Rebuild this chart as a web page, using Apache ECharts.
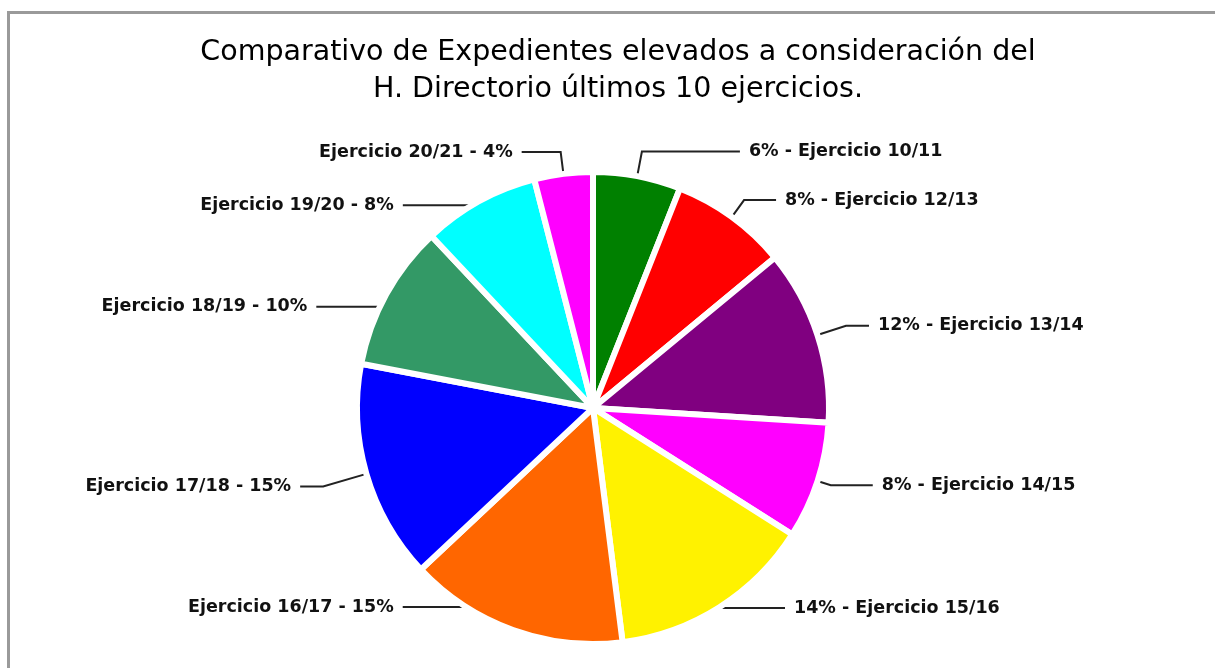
<!DOCTYPE html>
<html>
<head>
<meta charset="utf-8">
<script src="https://cdn.jsdelivr.net/npm/echarts@6/dist/echarts.min.js"></script>
<style>
  html, body { margin: 0; padding: 0; background: #fff; overflow: hidden; }
  #frame { position: absolute; left: 7px; top: 11px; width: 1400px; height: 900px; border: 3px solid #9a9a9a; }
  #chart { position: absolute; left: 0; top: 0; width: 1215px; height: 668px; }
</style>
</head>
<body>
<div id="frame"></div>
<div id="chart"></div>
<script>
var categories = ['Ejercicio 10/11', 'Ejercicio 12/13', 'Ejercicio 13/14', 'Ejercicio 14/15', 'Ejercicio 15/16',
                  'Ejercicio 16/17', 'Ejercicio 17/18', 'Ejercicio 18/19', 'Ejercicio 19/20', 'Ejercicio 20/21'];
var percents = [6, 8, 12, 8, 14, 15, 15, 10, 8, 4];
var colors = ['#008000', '#ff0000', '#800080', '#ff00ff', '#fff200',
              '#ff6600', '#0000ff', '#339966', '#00ffff', '#ff00ff'];
// leader line segments (radial part, horizontal part) and small vertical nudges
var leadLen = [25, 21, 30, 14, 1, 1, 45, 1, 1, 22];
var leadLen2 = [98, 32, 23, 42, 65, 110, 23, 69, 76, 39];
var labelNudge = [0, 0, 0, 0, 0, -24, 0, 13, 5, 0];

var data = [];
for (var i = 0; i < categories.length; i++) {
  data.push({
    name: categories[i],
    value: percents[i],
    itemStyle: { color: colors[i] },
    labelLine: { length: leadLen[i], length2: leadLen2[i] }
  });
}

var myChart = echarts.init(document.getElementById('chart'));
myChart.setOption({
  animation: false,
  title: {
    text: 'Comparativo de Expedientes elevados a consideración del\nH. Directorio últimos 10 ejercicios.',
    left: 613,
    top: 29,
    textAlign: 'center',
    textStyle: {
      fontFamily: 'DejaVu Sans',
      fontSize: 28.5,
      fontWeight: 'normal',
      color: '#000',
      lineHeight: 37
    }
  },
  series: [{
    type: 'pie',
    center: [593, 408],
    radius: 236,
    startAngle: 90,
    clockwise: true,
    avoidLabelOverlap: false,
    itemStyle: { borderColor: '#fff', borderWidth: 6 },
    label: {
      show: true,
      fontFamily: 'DejaVu Sans',
      fontWeight: 'bold',
      fontSize: 17.5,
      color: '#111',
      distanceToLabelLine: 9,
      formatter: function (p) {
        var left = p.dataIndex >= 5;
        return left ? p.name + ' - ' + p.value + '%' : p.value + '% - ' + p.name;
      }
    },
    labelLayout: function (params) {
      var dy = labelNudge[params.dataIndex];
      var pts = params.labelLinePoints;
      if (!dy || !pts) return {};
      // move the elbow and tail of the leader line together with the label
      var moved = [
        [pts[0][0], pts[0][1]],
        [pts[1][0], pts[1][1] + dy],
        [pts[2][0], pts[2][1] + dy]
      ];
      return { dy: dy, labelLinePoints: moved };
    },
    labelLine: {
      show: true,
      lineStyle: { color: '#222', width: 2 }
    },
    data: data
  }]
});
</script>
</body>
</html>
